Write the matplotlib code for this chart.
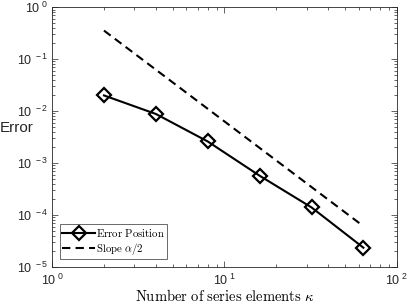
import matplotlib
matplotlib.use("Agg")
import matplotlib.pyplot as plt
from matplotlib.ticker import LogLocator, FuncFormatter, NullFormatter
import numpy as np

plt.rcParams['mathtext.fontset'] = 'cm'
plt.rcParams['font.family'] = ['Liberation Sans', 'DejaVu Sans']

kappa = [2, 4, 8, 16, 32, 64]
error_position = [0.020, 0.0088, 0.0026, 5.7e-4, 1.4e-4, 2.35e-5]
slope_x = [2, 64]
slope_y = [0.354, 6.1e-5]

fig = plt.figure(figsize=(4.07, 3.05), dpi=100)
ax = fig.add_axes([0.128, 0.1246, 0.847, 0.852])

ax.plot(kappa, error_position, color='black', lw=1.5, marker='D', ms=7.5,
        mfc='none', mew=1.6, label=r'$\mathrm{Error\ Position}$')
ax.plot(slope_x, slope_y, color='black', lw=1.5, ls=(0, (4, 2.5)),
        label=r'$\mathrm{Slope}\ \alpha/2$')

ax.set_xscale('log')
ax.set_yscale('log')
ax.set_xlim(1, 100)
ax.set_ylim(1e-5, 1)

axc = '#262626'
for s in ax.spines.values():
    s.set_color(axc)
    s.set_linewidth(0.6)

ax.xaxis.set_major_locator(LogLocator(base=10, numticks=10))
ax.yaxis.set_major_locator(LogLocator(base=10, numticks=10))
ax.xaxis.set_minor_locator(LogLocator(base=10, subs=np.arange(2, 10), numticks=20))
ax.yaxis.set_minor_locator(LogLocator(base=10, subs=np.arange(2, 10), numticks=20))
fmt = FuncFormatter(lambda v, p: r'$\mathdefault{10^{\ %d}}$' % int(round(np.log10(v))))
ax.xaxis.set_major_formatter(fmt)
ax.yaxis.set_major_formatter(fmt)
ax.xaxis.set_minor_formatter(NullFormatter())
ax.yaxis.set_minor_formatter(NullFormatter())
ax.tick_params(which='both', direction='in', top=True, right=True, colors=axc,
               labelcolor=axc, width=0.5)
ax.tick_params(which='major', length=4, labelsize=9)
ax.tick_params(which='minor', length=2)
ax.tick_params(axis='x', pad=4)
ax.tick_params(axis='y', pad=3)

ax.set_xlabel(r'$\mathrm{Number\ of\ series\ elements}\ \kappa$', fontsize=10.5,
              color='black', va='center')
ax.xaxis.set_label_coords(0.5, -0.112)
ax.set_ylabel('Error', fontsize=11, color=axc, rotation=0, va='center', ha='center')
ax.yaxis.set_label_coords(-0.103, 0.535)

leg = ax.legend(loc='lower left', prop={'size': 7.8},
                frameon=True, fancybox=False, edgecolor=axc, borderpad=0.2,
                handlelength=3.0, handletextpad=0.1, labelspacing=0.2,
                borderaxespad=0.75)
leg.get_frame().set_linewidth(0.6)

fig.savefig('out.png', dpi=100)
